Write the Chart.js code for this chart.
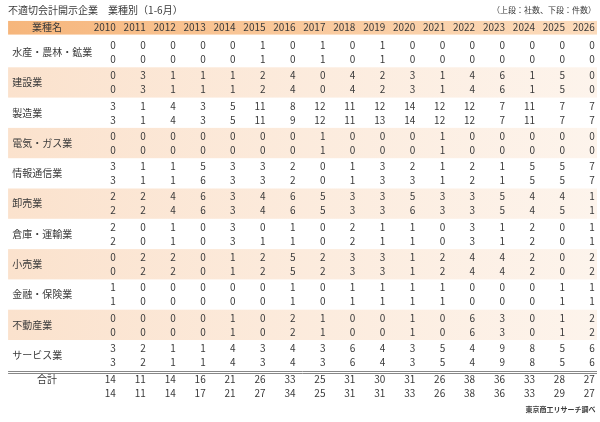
<!DOCTYPE html>
<html>
<head>
<meta charset="utf-8">
<script src="https://cdn.jsdelivr.net/npm/chart.js@4"></script>
<style>
  html, body { margin: 0; padding: 0; background: #fff; }
  #wrap { width: 600px; height: 422px; }
</style>
</head>
<body>
<div id="wrap"><canvas id="tbl"></canvas></div>
<script>
// 年（列）
const years = ['2010','2011','2012','2013','2014','2015','2016','2017','2018','2019','2020','2021','2022','2023','2024','2025','2026'];
// 業種（行）
const industries = ['水産・農林・鉱業','建設業','製造業','電気・ガス業','情報通信業','卸売業','倉庫・運輸業','小売業','金融・保険業','不動産業','サービス業'];
// 上段：社数
const companies = [
  [0,0,0,0,0,1,0,1,0,1,0,0,0,0,0,0,0],
  [0,3,1,1,1,2,4,0,4,2,3,1,4,6,1,5,0],
  [3,1,4,3,5,11,8,12,11,12,14,12,12,7,11,7,7],
  [0,0,0,0,0,0,0,1,0,0,0,1,0,0,0,0,0],
  [3,1,1,5,3,3,2,0,1,3,2,1,2,1,5,5,7],
  [2,2,4,6,3,4,6,5,3,3,5,3,3,5,4,4,1],
  [2,0,1,0,3,0,1,0,2,1,1,0,3,1,2,0,1],
  [0,2,2,0,1,2,5,2,3,3,1,2,4,4,2,0,2],
  [1,0,0,0,0,0,1,0,1,1,1,1,0,0,0,1,1],
  [0,0,0,0,1,0,2,1,0,0,1,0,6,3,0,1,2],
  [3,2,1,1,4,3,4,3,6,4,3,5,4,9,8,5,6]
];
// 下段：件数
const cases = [
  [0,0,0,0,0,1,0,1,0,1,0,0,0,0,0,0,0],
  [0,3,1,1,1,2,4,0,4,2,3,1,4,6,1,5,0],
  [3,1,4,3,5,11,9,12,11,13,14,12,12,7,11,7,7],
  [0,0,0,0,0,0,0,1,0,0,0,1,0,0,0,0,0],
  [3,1,1,6,3,3,2,0,1,3,3,1,2,1,5,5,7],
  [2,2,4,6,3,4,6,5,3,3,6,3,3,5,4,5,1],
  [2,0,1,0,3,1,1,0,2,1,1,0,3,1,2,0,1],
  [0,2,2,0,1,2,5,2,3,3,1,2,4,4,2,0,2],
  [1,0,0,0,0,0,1,0,1,1,1,1,0,0,0,1,1],
  [0,0,0,0,1,0,2,1,0,0,1,0,6,3,0,1,2],
  [3,2,1,1,4,3,4,3,6,4,3,5,4,9,8,5,6]
];
const totalCompanies = [14,11,14,16,21,26,33,25,31,30,31,26,38,36,33,28,27];
const totalCases = [14,11,14,17,21,27,34,25,31,31,33,26,38,36,33,29,27];

const FONT = '"Noto Sans CJK JP", "Noto Sans", sans-serif';
const TEXT = '#3a3a3a';

// 表を描画するプラグイン（位置はすべてスケール経由）
const tablePlugin = {
  id: 'tablePlugin',
  afterDraw(chart) {
    const ctx = chart.ctx;
    const xs = chart.scales.x, ys = chart.scales.y;
    const X = v => xs.getPixelForValue(v);
    const Y = v => ys.getPixelForValue(v);
    const left = X(-3.47), right = X(16.2);
    const colR = j => X(j + 0.13);   // 数値は右揃え
    ctx.save();

    // ヘッダー帯
    let g = ctx.createLinearGradient(left, 0, right, 0);
    g.addColorStop(0, '#f6b67c');
    g.addColorStop(1, '#fcdcbd');
    ctx.fillStyle = g;
    ctx.fillRect(left, Y(-0.53), right - left, Y(-0.08) - Y(-0.53));

    // 交互の行帯
    industries.forEach((name, i) => {
      if (i % 2 === 1) {
        g = ctx.createLinearGradient(left, 0, right, 0);
        g.addColorStop(0, '#fbe2cd');
        g.addColorStop(1, '#fdf4ec');
        ctx.fillStyle = g;
        ctx.fillRect(left, Y(i), right - left, Y(i + 1) - Y(i));
      }
    });

    // 二重線
    ctx.strokeStyle = '#888';
    ctx.lineWidth = 1;
    [11.02, 11.09].forEach(v => {
      ctx.beginPath();
      ctx.moveTo(left, Math.round(Y(v)) + 0.5);
      ctx.lineTo(right, Math.round(Y(v)) + 0.5);
      ctx.stroke();
    });

    ctx.fillStyle = TEXT;
    ctx.textBaseline = 'middle';
    ctx.font = '10px ' + FONT;

    // タイトル等
    ctx.textAlign = 'left';
    ctx.fillText('不適切会計開示企業　業種別（1-6月）', X(-3.47), Y(-0.9));
    ctx.font = '8px ' + FONT;
    ctx.textAlign = 'right';
    ctx.fillText('（上段：社数、下段：件数）', X(16.17), Y(-0.9));
    ctx.font = 'bold 7px ' + FONT;
    ctx.fillText('東京商工リサーチ調べ', X(16.15), Y(12.3));

    // ヘッダー
    ctx.font = '10px ' + FONT;
    ctx.textAlign = 'center';
    ctx.fillText('業種名', X(-2.17), Y(-0.31));
    ctx.textAlign = 'right';
    years.forEach((yr, j) => ctx.fillText(yr, colR(j), Y(-0.31)));

    // 本体
    industries.forEach((name, i) => {
      ctx.textAlign = 'left';
      ctx.fillText(name, X(-3.33), Y(i + 0.5));
      ctx.textAlign = 'right';
      companies[i].forEach((v, j) => ctx.fillText(String(v), colR(j), Y(i + 0.27)));
      cases[i].forEach((v, j) => ctx.fillText(String(v), colR(j), Y(i + 0.73)));
    });

    // 合計
    ctx.textAlign = 'center';
    ctx.fillText('合計', X(-2.17), Y(11.29));
    ctx.textAlign = 'right';
    totalCompanies.forEach((v, j) => ctx.fillText(String(v), colR(j), Y(11.29)));
    totalCases.forEach((v, j) => ctx.fillText(String(v), colR(j), Y(11.75)));

    ctx.restore();
  }
};

new Chart(document.getElementById('tbl'), {
  type: 'scatter',
  data: { datasets: [{ data: years.map((y, j) => ({ x: j, y: 0 })), pointRadius: 0 }] },
  options: {
    responsive: true,
    maintainAspectRatio: false,
    animation: false,
    layout: { padding: 0 },
    plugins: { legend: { display: false }, tooltip: { enabled: false } },
    scales: {
      x: { type: 'linear', display: false, min: -3.74, max: 16.30 },
      y: { type: 'linear', display: false, reverse: true, min: -1.221, max: 12.706 }
    }
  },
  plugins: [tablePlugin]
});
</script>
</body>
</html>
